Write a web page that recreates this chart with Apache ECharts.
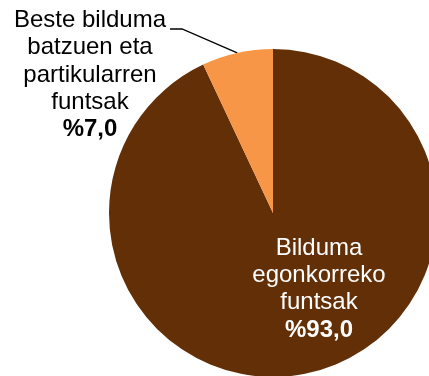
<!DOCTYPE html>
<html>
<head>
<meta charset="utf-8">
<style>
  html, body { margin: 0; padding: 0; background: #ffffff; }
  #chart { width: 429px; height: 376px; }
</style>
<script src="https://cdn.jsdelivr.net/npm/echarts@6/dist/echarts.min.js"></script>
</head>
<body>
<div id="chart"></div>
<script>
// Fund origin shares (percent)
const categories = [
  'Bilduma\negonkorreko\nfuntsak',
  'Beste bilduma\nbatzuen eta\npartikularren\nfuntsak'
];
const shares = [93.0, 7.0];
const sliceColors = ['#632f06', '#f79646'];

const CENTER = [273, 213];
const RADIUS = 164;
const START_ANGLE = 90;

function pct(v) {
  return '%' + v.toFixed(1).replace('.', ',');
}

const chart = echarts.init(document.getElementById('chart'), null, { renderer: 'canvas' });

const FONT = '"Liberation Sans", Arial, sans-serif';

// Leader line anchor: the outer edge at the middle angle of the small slice
const total = shares.reduce((a, b) => a + b, 0);
const midDeg = START_ANGLE - (shares[0] + shares[1] / 2) / total * 360;
const midRad = midDeg * Math.PI / 180;
const anchor = [CENTER[0] + RADIUS * Math.cos(midRad), CENTER[1] - RADIUS * Math.sin(midRad)];

function labelText(p) {
  return '{n|' + p.name.split('\n').join('}\n{n|') + '}\n{b|' + pct(p.value) + '}';
}
function richFor(color, size) {
  return {
    n: { color: color, fontSize: size, fontFamily: FONT, lineHeight: 27.4, align: 'center' },
    b: { color: color, fontSize: size, fontWeight: 'bold', fontFamily: FONT, lineHeight: 27.4, align: 'center' }
  };
}

chart.setOption({
  animation: false,
  backgroundColor: '#ffffff',
  series: [{
    type: 'pie',
    center: CENTER,
    radius: [0, RADIUS],
    startAngle: START_ANGLE,
    clockwise: true,
    silent: true,
    itemStyle: { borderWidth: 0 },
    labelLine: { show: false },
    data: categories.map((name, i) => ({
      name: name,
      value: shares[i],
      itemStyle: { color: sliceColors[i] },
      label: {
        show: true,
        position: i === 0 ? 'inside' : 'outside',
        formatter: labelText,
        rich: i === 0 ? richFor('#ffffff', 24) : richFor('#000000', 24)
      }
    })),
    labelLayout: function (params) {
      if (params.dataIndex === 0) {
        return { x: 319, y: 289, align: 'center', verticalAlign: 'middle' };
      }
      return { x: 90, y: 75, align: 'center', verticalAlign: 'middle' };
    }
  }],
  graphic: [{
    type: 'polyline',
    silent: true,
    shape: { points: [anchor, [182, 29], [170, 29]] },
    style: { stroke: '#000000', lineWidth: 1.3, fill: null }
  }]
});
</script>
</body>
</html>
